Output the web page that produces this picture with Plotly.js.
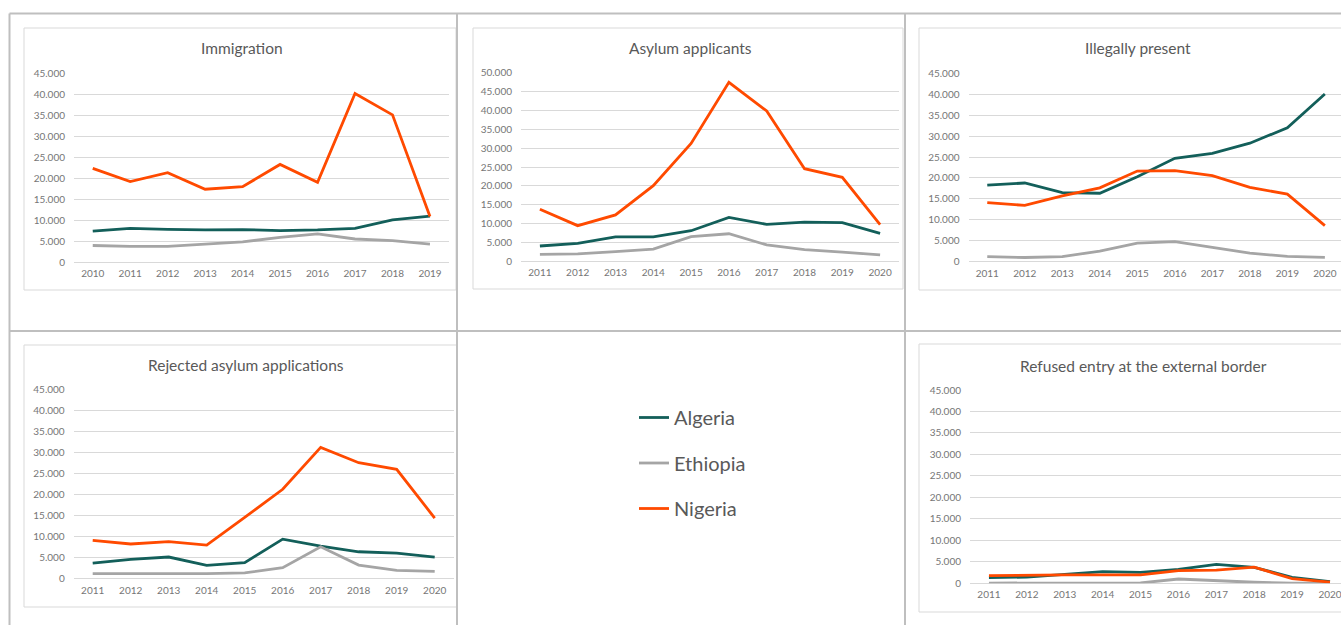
<!DOCTYPE html>
<html><head><meta charset="utf-8">
<script src="https://cdn.plot.ly/plotly-3.0.1.min.js"></script>
<style>html,body{margin:0;padding:0;background:#fff;overflow:hidden}#chart{width:1341px;height:625px}</style>
</head><body><div id="chart"></div>
<script>
// ---- data ----
const countries = ['Algeria', 'Ethiopia', 'Nigeria'];
const years2010to2019 = ['2010','2011','2012','2013','2014','2015','2016','2017','2018','2019'];
const years2011to2020 = ['2011','2012','2013','2014','2015','2016','2017','2018','2019','2020'];
const panelTitles = ['Immigration', 'Asylum applicants', 'Illegally present', 'Rejected asylum applications', 'Refused entry at the external border'];

const immigrationAlgeria  = [7400, 8100, 7850, 7700, 7800, 7550, 7700, 8100, 10100, 11000];
const immigrationEthiopia = [4000, 3800, 3800, 4350, 4850, 5950, 6750, 5550, 5150, 4350];
const immigrationNigeria  = [22350, 19200, 21350, 17400, 18000, 23300, 19050, 40200, 35100, 10900];

const asylumAlgeria  = [4050, 4750, 6450, 6450, 8100, 11650, 9800, 10400, 10250, 7400];
const asylumEthiopia = [1850, 1950, 2550, 3250, 6550, 7300, 4350, 3100, 2450, 1700];
const asylumNigeria  = [13800, 9450, 12300, 20050, 31250, 47450, 39850, 24550, 22250, 9700];

const illegalAlgeria  = [18300, 18800, 16500, 16350, 20300, 24700, 25900, 28300, 32000, 40050];
const illegalEthiopia = [1200, 1000, 1200, 2550, 4450, 4800, 3400, 2050, 1250, 1050];
const illegalNigeria  = [14100, 13450, 15700, 17650, 21650, 21750, 20550, 17750, 16150, 8600];

const rejectedAlgeria  = [3700, 4600, 5150, 3150, 3800, 9400, 7750, 6400, 6100, 5150];
const rejectedEthiopia = [1200, 1200, 1200, 1200, 1400, 2600, 7600, 3250, 2000, 1750];
const rejectedNigeria  = [9100, 8250, 8800, 8000, 14550, 21250, 31200, 27550, 26000, 14400];

const refusedAlgeria  = [1300, 1450, 2100, 2700, 2550, 3250, 4400, 3700, 1400, 400];
const refusedEthiopia = [60, 60, 60, 60, 80, 1000, 600, 250, 60, 50];
const refusedNigeria  = [1800, 1950, 1950, 1950, 1950, 2950, 3050, 3750, 1100, 250];

const yMaxima = [45000, 50000, 45000, 45000, 45000];

// ---- styling / layout (positions in px) ----
const W = 1341, H = 625;
const fx = x => x / W;
const fy = y => 1 - y / H;
const colors = {Algeria: '#135f5a', Ethiopia: '#a5a5a5', Nigeria: '#ff4a00'};
const FONT = 'Lato, "Open Sans", "Liberation Sans", sans-serif';

const panelData = [
  {x: years2010to2019, s: [immigrationAlgeria, immigrationEthiopia, immigrationNigeria]},
  {x: years2011to2020, s: [asylumAlgeria, asylumEthiopia, asylumNigeria]},
  {x: years2011to2020, s: [illegalAlgeria, illegalEthiopia, illegalNigeria]},
  {x: years2011to2020, s: [rejectedAlgeria, rejectedEthiopia, rejectedNigeria]},
  {x: years2011to2020, s: [refusedAlgeria, refusedEthiopia, refusedNigeria]}
];
// plot area geometry: left, right (px), top, bottom (px), x range end
const geom = [
  {l: 74,  r: 448.7, t: 73.3,  b: 262.3, xr: 9.5,  box: [24, 456, 28, 290],  tx: 242,  ty: 48},
  {l: 521, r: 899,   t: 72.7,  b: 261.3, xr: 9.5,  box: [473, 903, 28, 289], tx: 690,  ty: 48},
  {l: 968.5, r: 1341, t: 73.3, b: 261.7, xr: 9.43, box: [919, 1346, 28, 290], tx: 1138, ty: 48},
  {l: 73.7, r: 453.7, t: 389.3, b: 578.7, xr: 9.5, box: [24, 457, 345, 607], tx: 246,  ty: 365},
  {l: 970, r: 1341,  t: 390,   b: 583.3, xr: 9.29, box: [919, 1346, 344, 612], tx: 1143, ty: 365.5}
];

const traces = [];
const layout = {
  width: W, height: H,
  margin: {l: 0, r: 0, t: 0, b: 0},
  paper_bgcolor: '#ffffff', plot_bgcolor: '#ffffff',
  separators: ',.',
  font: {family: FONT, color: '#595959'},
  showlegend: true,
  legend: {
    x: fx(634), y: fy(398), xanchor: 'left', yanchor: 'top',
    font: {family: FONT, size: 20, color: '#595959'},
    traceorder: 'grouped', tracegroupgap: 16.5,
    bgcolor: 'rgba(0,0,0,0)', borderwidth: 0
  },
  shapes: [], annotations: []
};

panelData.forEach((p, i) => {
  const n = i === 0 ? '' : String(i + 1);
  const g = geom[i];
  p.s.forEach((vals, k) => {
    const c = countries[k];
    traces.push({
      type: 'scatter', mode: 'lines', name: c, legendgroup: c,
      showlegend: i === 0,
      x: p.x, y: vals,
      xaxis: 'x' + n, yaxis: 'y' + n,
      line: {color: colors[c], width: 2.8},
      hovertemplate: c + ' %{x}: %{y:,d}<extra></extra>'
    });
  });
  layout['xaxis' + n] = {
    domain: [fx(g.l), fx(g.r)], anchor: 'y' + n,
    type: 'category', range: [-0.5, g.xr],
    showgrid: false, zeroline: false, showline: false, ticks: '',
    tickfont: {family: FONT, size: 10, color: '#767676'},
    ticklabelstandoff: 4, fixedrange: true
  };
  layout['yaxis' + n] = {
    domain: [fy(g.b), fy(g.t)], anchor: 'x' + n,
    range: [0, yMaxima[i]], dtick: 5000, tick0: 0, tickformat: ',d',
    showgrid: true, gridcolor: '#d9d9d9', gridwidth: 1,
    zeroline: true, zerolinecolor: '#d9d9d9', zerolinewidth: 1,
    showline: false, ticks: '',
    tickfont: {family: FONT, size: 10, color: '#767676'},
    ticklabelstandoff: 8, fixedrange: true
  };
  // panel frame
  layout.shapes.push({type: 'rect', xref: 'paper', yref: 'paper',
    x0: fx(g.box[0]), x1: fx(g.box[1]), y0: fy(g.box[3]), y1: fy(g.box[2]),
    line: {color: '#d9d9d9', width: 1}, fillcolor: 'rgba(0,0,0,0)', layer: 'below'});
  layout.annotations.push({xref: 'paper', yref: 'paper', x: fx(g.tx), y: fy(g.ty),
    xanchor: 'center', yanchor: 'middle', showarrow: false, text: panelTitles[i],
    font: {family: FONT, size: 15.5, color: '#595959'}});
});

// table grid lines
const gridCol = '#bfbfbf';
[[9.5, 13.5, 1341, 13.5], [9.5, 13.5, 9.5, 625], [457, 13.5, 457, 625], [905, 13.5, 905, 625], [9.5, 331, 1341, 331]]
  .forEach(([x0, y0, x1, y1]) => layout.shapes.push({type: 'line', xref: 'paper', yref: 'paper',
    x0: fx(x0), y0: fy(y0), x1: fx(x1), y1: fy(y1), line: {color: gridCol, width: 2}, layer: 'below'}));

Plotly.newPlot('chart', traces, layout, {displayModeBar: false, staticPlot: false});
</script></body></html>
